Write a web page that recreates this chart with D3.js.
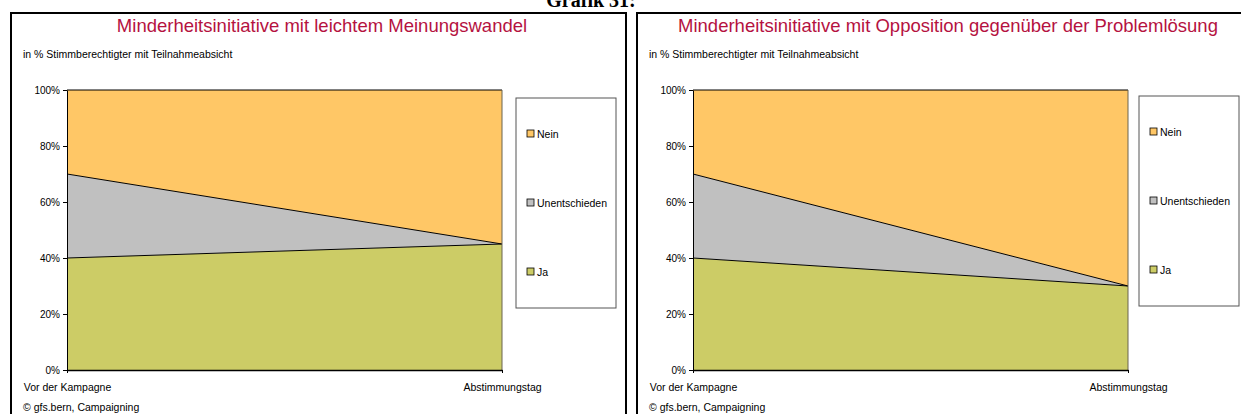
<!DOCTYPE html>
<html>
<head>
<meta charset="utf-8">
<script src="https://cdn.jsdelivr.net/npm/d3@7"></script>
<style>
  body { margin: 0; background: #fff; }
  svg { display: block; }
  text { font-family: "Liberation Sans", Arial, sans-serif; }
</style>
</head>
<body>
<div id="chart"></div>
<script>
// Daten
const categories = ["Vor der Kampagne", "Abstimmungstag"];
const seriesNames = ["Ja", "Unentschieden", "Nein"];
const colors = ["#CCCC66", "#C0C0C0", "#FFC766"];

const titles = [
  "Minderheitsinitiative mit leichtem Meinungswandel",
  "Minderheitsinitiative mit Opposition gegenüber der Problemlösung"
];

// linke Grafik
const jaLeft = [40, 45];
const unentschiedenLeft = [30, 0];
const neinLeft = [30, 55];

// rechte Grafik
const jaRight = [40, 30];
const unentschiedenRight = [30, 0];
const neinRight = [30, 70];

const yTicks = [0, 20, 40, 60, 80, 100];

const width = 1241, height = 414;
const svg = d3.select("#chart").append("svg")
  .attr("width", width)
  .attr("height", height);

// Überschrift oben (im Original abgeschnitten)
svg.append("text")
  .attr("x", 591)
  .attr("y", 7)
  .attr("text-anchor", "middle")
  .style("font-family", "'Liberation Serif', 'Times New Roman', serif")
  .style("font-weight", "bold")
  .style("font-size", "20px")
  .text("Grafik 31:");

function drawPanel(px, title, ja, un, nein, legendX, legendY) {
  const g = svg.append("g").attr("transform", `translate(${px},0)`);

  // Rahmen
  g.append("rect")
    .attr("x", 0).attr("y", 13)
    .attr("width", 615).attr("height", 420)
    .attr("fill", "none")
    .attr("stroke", "#000")
    .attr("stroke-width", 2);

  g.append("text")
    .attr("x", 311).attr("y", 32)
    .attr("text-anchor", "middle")
    .attr("fill", "#B5123F")
    .style("font-size", "18.5px")
    .text(title);

  g.append("text")
    .attr("x", 12).attr("y", 58)
    .attr("fill", "#000")
    .style("font-size", "10.5px")
    .text("in %  Stimmberechtigter mit Teilnahmeabsicht");

  const x = d3.scalePoint().domain(categories).range([56, 491]).padding(0);
  const y = d3.scaleLinear().domain([0, 100]).range([370, 90]);

  const rows = categories.map((c, i) => ({
    cat: c, Ja: ja[i], Unentschieden: un[i], Nein: nein[i]
  }));
  const stacked = d3.stack().keys(seriesNames)(rows);

  const area = d3.area()
    .x(d => x(d.data.cat))
    .y0(d => y(d[0]))
    .y1(d => y(d[1]));

  g.append("g").selectAll("path")
    .data(stacked)
    .enter().append("path")
    .attr("d", area)
    .attr("fill", (d, i) => colors[i])
    .attr("stroke", "none");

  // Trennlinien zwischen den Flächen
  const line = d3.line().x(d => x(d.data.cat)).y(d => y(d[1]));
  g.append("g").selectAll("path")
    .data(stacked)
    .enter().append("path")
    .attr("d", line)
    .attr("fill", "none")
    .attr("stroke", "#000")
    .attr("stroke-width", 1);

  // rechter Rand der Fläche
  g.append("line")
    .attr("x1", x(categories[1])).attr("x2", x(categories[1]))
    .attr("y1", y(100)).attr("y2", y(0))
    .attr("stroke", "#6b6450").attr("stroke-width", 1);

  // Achsen
  const yAxis = g.append("g")
    .attr("transform", `translate(${x(categories[0])},0)`)
    .call(d3.axisLeft(y).tickValues(yTicks).tickSize(4).tickSizeOuter(0).tickFormat(d => d + "%"));
  yAxis.select(".domain").attr("stroke", "#000");
  yAxis.selectAll("text").style("font-size", "10px").style("font-family", "'Liberation Sans', Arial, sans-serif").attr("fill", "#000");

  const xAxis = g.append("g")
    .attr("transform", `translate(0,${y(0)})`)
    .call(d3.axisBottom(x).tickSize(3).tickSizeOuter(0).tickPadding(11));
  xAxis.select(".domain").attr("stroke", "#000").attr("stroke-width", 1.5);
  xAxis.selectAll("text").style("font-size", "10.5px").style("font-family", "'Liberation Sans', Arial, sans-serif").attr("fill", "#000");

  // Legende
  const lg = g.append("g").attr("transform", `translate(${legendX},${legendY})`);
  lg.append("rect")
    .attr("width", 100).attr("height", 210)
    .attr("fill", "#fff")
    .attr("stroke", "#555").attr("stroke-width", 1);

  const legendItems = seriesNames.slice().reverse();
  legendItems.forEach((name, i) => {
    const yy = 36 + i * 69;
    lg.append("rect")
      .attr("x", 11).attr("y", yy - 4)
      .attr("width", 7).attr("height", 7)
      .attr("fill", colors[seriesNames.indexOf(name)])
      .attr("stroke", "#000").attr("stroke-width", 0.8);
    lg.append("text")
      .attr("x", 21).attr("y", yy + 3.5)
      .style("font-size", "10.5px")
      .text(name);
  });

  g.append("text")
    .attr("x", 12).attr("y", 411)
    .style("font-size", "10.5px")
    .text("© gfs.bern, Campaigning");
}

drawPanel(11, titles[0], jaLeft, unentschiedenLeft, neinLeft, 505, 98);
drawPanel(637, titles[1], jaRight, unentschiedenRight, neinRight, 502, 96);
</script>
</body>
</html>
